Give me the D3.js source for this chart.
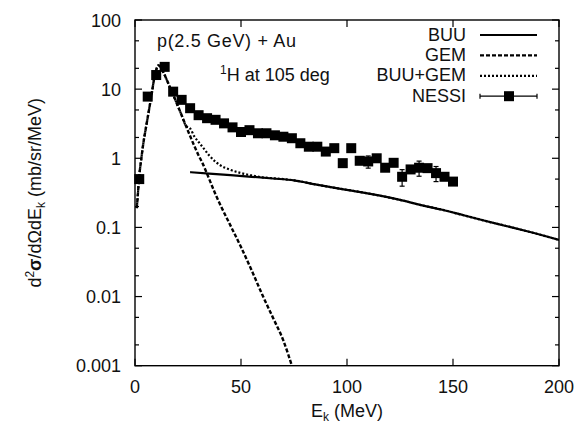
<!DOCTYPE html>
<html>
<head>
<meta charset="utf-8">
<script src="https://cdn.jsdelivr.net/npm/d3@7/dist/d3.min.js"></script>
<style>
  html, body { margin: 0; padding: 0; background: #fff; }
  svg { display: block; }
  text { font-family: "Liberation Sans", Arial, Helvetica, sans-serif; fill: #111; }
</style>
</head>
<body>
<svg id="chart" width="578" height="427"></svg>
<script>
// ---------- data ----------
const nessiE = [2,6,10,14,18,22,26,30,34,38,42,46,50,54,58,62,66,70,74,78,82,86,90,94,98,102,106,110,114,118,122,126,130,134,138,142,146,150];
const nessiV = [0.5,7.8,16,21,9.2,7.0,5.3,4.2,3.8,3.6,3.2,2.8,2.4,2.55,2.3,2.3,2.15,2.05,1.95,1.65,1.47,1.47,1.25,1.4,0.85,1.4,0.92,0.9,1.0,0.73,0.86,0.54,0.69,0.73,0.72,0.61,0.54,0.46];
const nessiErr = [0.04,0.6,1.2,1.6,0.7,0.5,0.4,0.3,0.3,0.28,0.25,0.22,0.19,0.2,0.18,0.18,0.17,0.16,0.15,0.13,0.12,0.12,0.1,0.11,0.07,0.11,0.08,0.18,0.08,0.06,0.07,0.145,0.06,0.18,0.06,0.15,0.05,0.04];

const gemE = [0.8,1,2,3,4,5,6,7,8,9,10,11,12,13,14,16,18,20,22,24,26,28,30,32,35,38,40,45,50,55,60,65,70,74];
const gemV = [0.19,0.22,0.55,1.0,1.7,2.6,3.9,5.9,9,14,19,22,21,18.5,16,11.5,8.3,5.9,4.2,2.95,2.1,1.5,1.1,0.83,0.5,0.3,0.22,0.107,0.052,0.024,0.0107,0.005,0.0023,0.001];

const buuE = [26,35,45,55,65,75,85,95,105,115,125,135,145,155,165,175,185,200];
const buuV = [0.63,0.60,0.57,0.54,0.51,0.48,0.42,0.37,0.33,0.29,0.25,0.21,0.18,0.15,0.125,0.105,0.088,0.066];

const sumE = [0.8,1,2,3,4,5,6,7,8,9,10,11,12,13,14,16,18,20,22,24,26,28,30,32,35,38,40,45,50,55,60,65,70,75,85,95,105,115,125,135,145,155,165,175,185,200];
const sumV = [0.19,0.22,0.55,1.0,1.7,2.6,3.9,5.9,9,14,19,22,21,18.5,16,11.5,8.3,5.9,4.2,2.95,2.7,2.07,1.72,1.44,1.1,0.89,0.8,0.68,0.61,0.565,0.53,0.515,0.5,0.48,0.42,0.37,0.33,0.29,0.25,0.21,0.18,0.15,0.125,0.105,0.088,0.066];

const xTicks = [0,50,100,150,200];
const yTicks = [0.001,0.01,0.1,1,10,100];
const yTickLabels = ["0.001","0.01","0.1","1","10","100"];
const yMinorTicks = [0.002,0.005,0.02,0.05,0.2,0.5,2,5,20,50];
const legendLabels = ["BUU","GEM","BUU+GEM","NESSI"];

// ---------- layout ----------
const svg = d3.select("#chart");
const L = 135, R = 559, T = 20, B = 365.7;
const x = d3.scaleLinear().domain([0,200]).range([L,R]);
const y = d3.scaleLog().domain([0.001,100]).range([B,T]);
const FS = 18;

svg.append("defs").append("clipPath").attr("id","clip")
  .append("rect").attr("x",L).attr("y",T).attr("width",R-L).attr("height",B-T);

// ---------- axes ----------
const majorLen = 7, minorLen = 4;
const axes = svg.append("g").attr("stroke","#000").attr("stroke-width",1.2);
// bottom/top ticks
xTicks.forEach(v => {
  axes.append("line").attr("x1",x(v)).attr("x2",x(v)).attr("y1",B).attr("y2",B-majorLen);
  axes.append("line").attr("x1",x(v)).attr("x2",x(v)).attr("y1",T).attr("y2",T+majorLen);
});
yTicks.forEach(v => {
  axes.append("line").attr("x1",L).attr("x2",L+majorLen).attr("y1",y(v)).attr("y2",y(v));
  axes.append("line").attr("x1",R).attr("x2",R-majorLen).attr("y1",y(v)).attr("y2",y(v));
});
yMinorTicks.forEach(v => {
  axes.append("line").attr("x1",L).attr("x2",L+minorLen).attr("y1",y(v)).attr("y2",y(v));
  axes.append("line").attr("x1",R).attr("x2",R-minorLen).attr("y1",y(v)).attr("y2",y(v));
});
svg.append("rect").attr("x",L).attr("y",T).attr("width",R-L).attr("height",B-T)
  .attr("fill","none").attr("stroke","#000").attr("stroke-width",1.4);

// tick labels
svg.append("g").selectAll("text").data(xTicks).join("text")
  .attr("x",d=>x(d)).attr("y",392.5).attr("text-anchor","middle")
  .attr("font-size",FS).text(d=>d);
svg.append("g").selectAll("text").data(yTicks).join("text")
  .attr("x",121).attr("y",d=>y(d)+6.5).attr("text-anchor","end")
  .attr("font-size",FS).text((d,i)=>yTickLabels[i]);

// axis titles
const xt = svg.append("text").attr("x",(L+R)/2).attr("y",417).attr("text-anchor","middle").attr("font-size",FS);
xt.append("tspan").text("E");
xt.append("tspan").attr("font-size",12).attr("dy",4).text("k");
xt.append("tspan").attr("dy",-4).text(" (MeV)");

const yt = svg.append("text").attr("transform",`translate(41,${(T+B)/2}) rotate(-90)`)
  .attr("text-anchor","middle").attr("font-size",FS);
yt.append("tspan").text("d");
yt.append("tspan").attr("font-size",12).attr("dy",-7).text("2");
yt.append("tspan").attr("dy",7).attr("font-weight","bold").text("σ");
yt.append("tspan").text("/dΩdE");
yt.append("tspan").attr("font-size",12).attr("dy",4).text("k");
yt.append("tspan").attr("dy",-4).text(" (mb/sr/MeV)");

// annotations
svg.append("text").attr("x",157).attr("y",46.5).attr("font-size",FS).attr("textLength",139).text("p(2.5 GeV) + Au");
const an = svg.append("text").attr("x",220).attr("y",81).attr("font-size",FS);
an.append("tspan").attr("font-size",12).attr("dy",-7).text("1");
an.append("tspan").attr("dy",7).text("H at 105 deg");

// ---------- lines ----------
const line = d3.line().x(d=>x(d[0])).y(d=>y(d[1])).curve(d3.curveMonotoneX);
const plot = svg.append("g").attr("clip-path","url(#clip)");
const styles = {
  buu: {w:2.2, dash:null},
  gem: {w:2.4, dash:"4,2"},
  sum: {w:2.2, dash:"2,2"}
};
plot.append("path").attr("d",line(gemE.map((e,i)=>[e,gemV[i]])))
  .attr("fill","none").attr("stroke","#000").attr("stroke-width",styles.gem.w).attr("stroke-dasharray",styles.gem.dash);
plot.append("path").attr("d",line(buuE.map((e,i)=>[e,buuV[i]])))
  .attr("fill","none").attr("stroke","#000").attr("stroke-width",styles.buu.w);
plot.append("path").attr("d",line(sumE.map((e,i)=>[e,sumV[i]])))
  .attr("fill","none").attr("stroke","#000").attr("stroke-width",styles.sum.w).attr("stroke-dasharray",styles.sum.dash);

// ---------- NESSI points ----------
const pts = svg.append("g");
const cap = 2.5, sq = 10;
nessiE.forEach((e,i) => {
  const v = nessiV[i], er = nessiErr[i];
  const cx = x(e), y1 = y(v+er), y0 = y(Math.max(v-er, 0.0011));
  pts.append("line").attr("x1",cx).attr("x2",cx).attr("y1",y1).attr("y2",y0).attr("stroke","#000").attr("stroke-width",1.2);
  pts.append("line").attr("x1",cx-cap).attr("x2",cx+cap).attr("y1",y1).attr("y2",y1).attr("stroke","#000").attr("stroke-width",1.2);
  pts.append("line").attr("x1",cx-cap).attr("x2",cx+cap).attr("y1",y0).attr("y2",y0).attr("stroke","#000").attr("stroke-width",1.2);
  pts.append("rect").attr("x",cx-sq/2).attr("y",y(v)-sq/2).attr("width",sq).attr("height",sq).attr("fill","#000");
});

// ---------- legend ----------
const lg = svg.append("g");
const lx0 = 480, lx1 = 537, ltx = 466;
legendLabels.forEach((lab,i) => {
  const by = 40.5 + 20.4*i, ly = by - 5.5;
  lg.append("text").attr("x",ltx).attr("y",by).attr("text-anchor","end").attr("font-size",FS).text(lab);
  if (i < 3) {
    const st = [styles.buu, styles.gem, styles.sum][i];
    const ln = lg.append("line").attr("x1",lx0).attr("x2",lx1).attr("y1",ly).attr("y2",ly)
      .attr("stroke","#000").attr("stroke-width",st.w);
    if (st.dash) ln.attr("stroke-dasharray",st.dash);
  } else {
    lg.append("line").attr("x1",lx0).attr("x2",lx1).attr("y1",ly).attr("y2",ly).attr("stroke","#000").attr("stroke-width",1.2);
    lg.append("line").attr("x1",lx0).attr("x2",lx0).attr("y1",ly-cap).attr("y2",ly+cap).attr("stroke","#000").attr("stroke-width",1.2);
    lg.append("line").attr("x1",lx1).attr("x2",lx1).attr("y1",ly-cap).attr("y2",ly+cap).attr("stroke","#000").attr("stroke-width",1.2);
    lg.append("rect").attr("x",(lx0+lx1)/2-sq/2+0.5).attr("y",ly-sq/2).attr("width",sq).attr("height",sq).attr("fill","#000");
  }
});
</script>
</body>
</html>
